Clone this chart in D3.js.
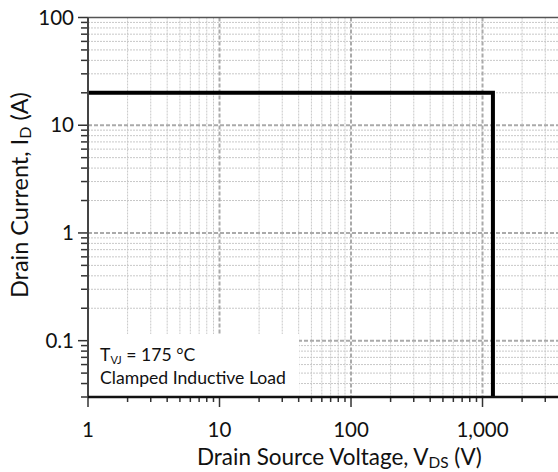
<!DOCTYPE html>
<html>
<head>
<meta charset="utf-8">
<script src="https://cdn.jsdelivr.net/npm/d3@7"></script>
<style>
  body { margin: 0; background: #fff; }
  text { font-family: Lato, "Open Sans", sans-serif; fill: #111; }
</style>
</head>
<body>
<svg id="chart" width="558" height="472"></svg>
<script>
// chart values
var xDomain = [1, 3750],
    yDomain = [0.03, 100],
    xMajor = [1, 10, 100, 1000],
    yMajor = [0.1, 1, 10, 100],
    xLabels = ["1", "10", "100", "1,000"],
    yLabels = ["0.1", "1", "10", "100"],
    soaV = [1, 1200, 1200],
    soaI = [20, 20, 0.03],
    noteLines = ["175 °C", "Clamped Inductive Load"];

(function() {
  var svg = d3.select("#chart"),
      mLeft = 88, mRight = 558, mTop = 17.5, mBottom = 397;

  var x = d3.scaleLog().domain(xDomain).range([mLeft, mRight]),
      y = d3.scaleLog().domain(yDomain).range([mBottom, mTop]);

  var isMajor = function(v) { return Math.abs(Math.log10(v) - Math.round(Math.log10(v))) < 1e-9; };

  var xAll = x.ticks().filter(function(v) { return v <= xDomain[1]; }),
      yAll = y.ticks().filter(function(v) { return v >= yDomain[0] && v <= yDomain[1]; });

  // scale a text's font so it spans the given width
  function fitWidth(sel, width) {
    var fs = +sel.attr("font-size"), w = sel.node().getBBox().width;
    var k = width / w;
    sel.attr("font-size", fs * k);
    sel.selectAll("tspan").each(function() {
      var t = d3.select(this), f = t.attr("font-size");
      if (f) t.attr("font-size", +f * k);
    });
  }

  // grid
  var grid = svg.append("g");
  grid.selectAll(".vminor").data(xAll.filter(function(v) { return !isMajor(v); }))
    .enter().append("line")
    .attr("x1", x).attr("x2", x).attr("y1", mTop).attr("y2", mBottom)
    .attr("stroke", "#c8c8c8").attr("stroke-width", 1).attr("stroke-dasharray", "2,1");
  grid.selectAll(".hminor").data(yAll.filter(function(v) { return !isMajor(v); }))
    .enter().append("line")
    .attr("y1", y).attr("y2", y).attr("x1", mLeft).attr("x2", mRight)
    .attr("stroke", "#c8c8c8").attr("stroke-width", 1).attr("stroke-dasharray", "2,1");
  grid.selectAll(".vmajor").data(xMajor.slice(1))
    .enter().append("line")
    .attr("x1", x).attr("x2", x).attr("y1", mTop).attr("y2", mBottom)
    .attr("stroke", "#aaa").attr("stroke-width", 2).attr("stroke-dasharray", "4,2");
  grid.selectAll(".hmajor").data(yMajor.slice(0, 3))
    .enter().append("line")
    .attr("y1", y).attr("y2", y).attr("x1", mLeft).attr("x2", mRight)
    .attr("stroke", "#aaa").attr("stroke-width", 2).attr("stroke-dasharray", "4,2");

  // note box
  svg.append("rect").attr("x", mLeft + 1).attr("y", 334)
    .attr("width", 210).attr("height", mBottom - 334).attr("fill", "#fff");
  var t1 = svg.append("text").attr("x", 100).attr("y", 361).attr("font-size", 17.5);
  t1.append("tspan").text("T");
  t1.append("tspan").attr("font-size", 11).attr("dy", 3).text("VJ");
  t1.append("tspan").attr("dy", -3).text(" = " + noteLines[0]);
  var t2 = svg.append("text").attr("x", 100).attr("y", 384).attr("font-size", 17.5).text(noteLines[1]);
  fitWidth(t2, 186);
  t1.attr("font-size", t2.attr("font-size"));

  // SOA boundary
  svg.append("path")
    .datum(d3.zip(soaV, soaI))
    .attr("d", d3.line().x(function(d) { return x(d[0]); }).y(function(d) { return y(d[1]); }))
    .attr("fill", "none").attr("stroke", "#000").attr("stroke-width", 4);

  // frame
  svg.append("line").attr("x1", mLeft).attr("x2", mRight).attr("y1", mTop).attr("y2", mTop)
    .attr("stroke", "#555").attr("stroke-width", 1.5);

  // y axis
  var yAxis = svg.append("g");
  yAxis.selectAll(".tk").data(yAll).enter().append("line")
    .attr("y1", y).attr("y2", y)
    .attr("x1", function(v) { return isMajor(v) ? mLeft - 10 : mLeft - 7; }).attr("x2", mLeft)
    .attr("stroke", "#333").attr("stroke-width", 1.5);
  yAxis.append("line").attr("x1", mLeft).attr("x2", mLeft).attr("y1", mTop).attr("y2", mBottom)
    .attr("stroke", "#444").attr("stroke-width", 2);
  yAxis.selectAll(".lb").data(yMajor).enter().append("text")
    .attr("x", mLeft - 14).attr("y", function(v) { return y(v) + 7; })
    .attr("text-anchor", "end").attr("font-size", 20.5)
    .text(function(v, i) { return yLabels[i]; });

  // x axis
  var xAxis = svg.append("g");
  xAxis.selectAll(".tk").data(xAll).enter().append("line")
    .attr("x1", x).attr("x2", x)
    .attr("y1", mBottom).attr("y2", function(v) { return isMajor(v) ? mBottom + 10 : mBottom + 5; })
    .attr("stroke", "#333").attr("stroke-width", 1.5);
  xAxis.append("line").attr("x1", mLeft).attr("x2", mRight).attr("y1", mBottom).attr("y2", mBottom)
    .attr("stroke", "#111").attr("stroke-width", 2.5);
  xAxis.selectAll(".lb").data(xMajor).enter().append("text")
    .attr("x", x).attr("y", 437)
    .attr("text-anchor", "middle").attr("font-size", 20.5)
    .text(function(v, i) { return xLabels[i]; });

  // axis titles
  var xt = svg.append("text").attr("x", 197).attr("y", 465).attr("font-size", 19);
  xt.append("tspan").text("Drain Source Voltage, V");
  xt.append("tspan").attr("font-size", 13).attr("dy", 3).text("DS");
  xt.append("tspan").attr("dy", -3).text(" (V)");
  fitWidth(xt, 285);

  var yt = svg.append("text").attr("transform", "translate(28,298) rotate(-90)").attr("font-size", 19);
  yt.append("tspan").text("Drain Current, I");
  yt.append("tspan").attr("font-size", 13).attr("dy", 3).text("D");
  yt.append("tspan").attr("dy", -3).text(" (A)");
  fitWidth(yt, 206);
})();
</script>
</body>
</html>
